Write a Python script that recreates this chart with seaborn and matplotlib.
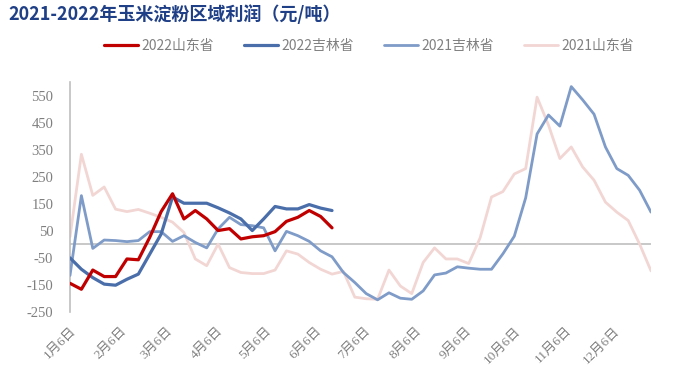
import numpy as np
import pandas as pd
import matplotlib
matplotlib.use("Agg")
import matplotlib.pyplot as plt
import matplotlib.transforms as mtransforms
import seaborn as sns

# ---- data (weekly, starting 1月6日) ----
sd2022 = [-144, -166, -95, -119, -119, -54, -57, 26, 121, 187, 94, 125, 94, 51, 58,
          20, 28, 32, 47, 85, 100, 125, 103, 61]
jl2022 = [-50, -92, -123, -147, -151, -129, -110, -36, 38, 175, 152, 152, 152, 135, 116,
          94, 51, 94, 140, 131, 131, 147, 134, 125]
jl2021 = [-115, 180, -15, 16, 14, 10, 14, 47, 47, 11, 32, 7, -13, 57, 100, 73, 69, 61,
          -24, 48, 32, 11, -24, -46, -104, -141, -182, -205, -179, -199, -203, -172,
          -113, -106, -83, -88, -92, -92, -35, 30, 172, 408, 478, 437, 583, 534, 481,
          360, 280, 255, 200, 119]
sd2021 = [28, 333, 181, 212, 130, 121, 129, 115, 100, 82, 44, -54, -79, 1, -86, -104,
          -108, -108, -95, -24, -36, -67, -92, -110, -100, -195, -201, -203, -95, -154,
          -182, -67, -13, -54, -54, -71, 24, 175, 195, 260, 280, 544, 441, 317, 360, 286,
          237, 156, 119, 88, 1, -98]
series_names = ["2022山东省", "2022吉林省", "2021吉林省", "2021山东省"]
tick_days = [0, 31, 59, 90, 120, 151, 181, 212, 243, 273, 304, 334]
tick_labels = ["1月6日", "2月6日", "3月6日", "4月6日", "5月6日", "6月6日",
               "7月6日", "8月6日", "9月6日", "10月6日", "11月6日", "12月6日"]
y_ticks = list(range(-250, 551, 100))

frames = []
for name, vals in zip(series_names, [sd2022, jl2022, jl2021, sd2021]):
    frames.append(pd.DataFrame({"day": [7 * i for i in range(len(vals))],
                                "value": vals, "series": name}))
df = pd.concat(frames, ignore_index=True)

sns.set_theme(style="white")
plt.rcParams["font.family"] = ["Noto Sans CJK SC", "DejaVu Sans"]

colors = {"2022山东省": "#C00000", "2022吉林省": "#4A6EAA",
          "2021吉林省": "#7F9BC8", "2021山东省": "#F2D6D4"}
widths = {"2022山东省": 2.3, "2022吉林省": 2.3, "2021吉林省": 2.0, "2021山东省": 2.0}
zord = {"2022山东省": 5, "2022吉林省": 4, "2021吉林省": 3, "2021山东省": 2}

fig = plt.figure(figsize=(6.84, 3.87), dpi=100)
ax = fig.add_axes([70 / 684, 1 - 312 / 387, (651 - 70) / 684, (312 - 82) / 387])

for name in series_names:
    sub = df[df["series"] == name]
    sns.lineplot(data=sub, x="day", y="value", ax=ax, color=colors[name],
                 linewidth=widths[name], label=name, zorder=zord[name])

ax.axhline(0, color="#BFBFBF", linewidth=1.2, zorder=1)
ax.set_xlim(0, 357)
ax.set_ylim(-250, 600)
ax.set_yticks(y_ticks)
ax.set_yticklabels([str(v) for v in y_ticks], family=["Liberation Serif"],
                   fontsize=10.5, color="#7F7F7F")
ax.set_xticks(tick_days)
ax.set_xticklabels(tick_labels, family=["Liberation Serif", "Noto Sans CJK SC"],
                   fontsize=9.5, color="#7F7F7F", rotation=45, ha="right",
                   rotation_mode="anchor")
shift = mtransforms.ScaledTranslation(-4 / 100, 0, fig.dpi_scale_trans)
for lbl in ax.get_xticklabels():
    lbl.set_transform(lbl.get_transform() + shift)
ax.tick_params(axis="both", length=0)
ax.tick_params(axis="x", pad=9)
ax.tick_params(axis="y", pad=12)
ax.set_xlabel("")
ax.set_ylabel("")
for s in ["top", "right", "bottom"]:
    ax.spines[s].set_visible(False)
ax.spines["left"].set_color("#BFBFBF")
ax.spines["left"].set_linewidth(1.2)

ax.get_legend().remove()
handles, labels = ax.get_legend_handles_labels()
fig.legend(handles, labels, loc="center", bbox_to_anchor=(369 / 684, 1 - 46 / 387),
           ncol=4, frameon=False, fontsize=10, handlelength=2.4,
           handletextpad=0.25, columnspacing=2.2, labelcolor="#808080")

fig.text(8 / 684, 1 - 14 / 387, "2021-2022年玉米淀粉区域利润（元/吨）", fontsize=13,
         fontweight="bold", color="#1F3F86", ha="left", va="center")

fig.savefig("out.png", dpi=100)
